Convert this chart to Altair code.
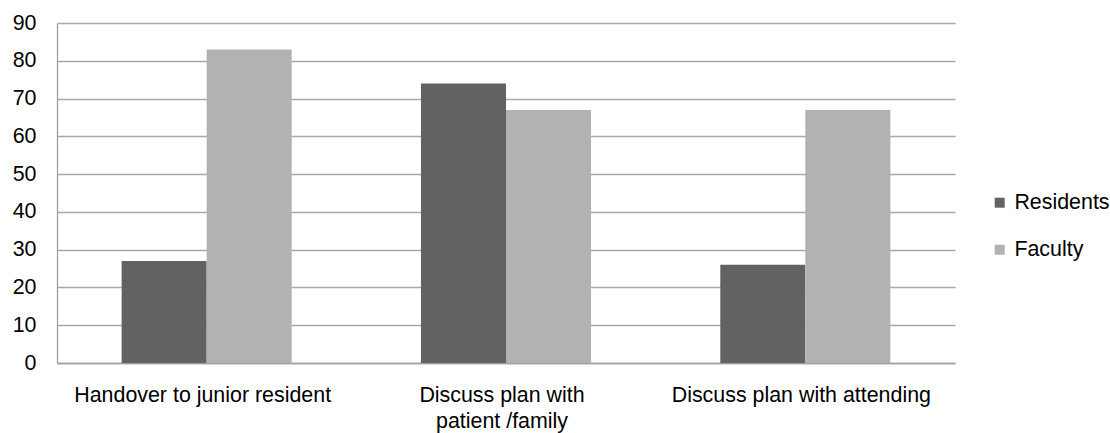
import altair as alt
import pandas as pd

categories = ["Handover to junior resident", "Discuss plan with patient /family", "Discuss plan with attending"]
residents = [27, 74, 26]
faculty = [83, 67, 67]
series = ["Residents", "Faculty"]
colors = ["#626262", "#b2b2b2"]

rows = []
for c, r, f in zip(categories, residents, faculty):
    rows.append({"category": c, "series": "Residents", "value": r})
    rows.append({"category": c, "series": "Faculty", "value": f})
df = pd.DataFrame(rows)

label_expr = ("datum.label == 'Discuss plan with patient /family' ? "
              "['Discuss plan with', 'patient /family'] : datum.label")

FS = 21.4

chart = alt.Chart(df).mark_bar().encode(
    x=alt.X("category:N", sort=categories, title=None,
            scale=alt.Scale(paddingInner=0, paddingOuter=0),
            axis=alt.Axis(labelAngle=0, labelExpr=label_expr, labelFontSize=FS,
                          labelFont="Liberation Sans", labelColor="#000000", labelLimit=0,
                          ticks=False, domain=True, domainColor="#a0a0a0", domainWidth=1.3,
                          labelPadding=21, labelLineHeight=26, labelBaseline="top",
                          labelOffset=-4)),
    xOffset=alt.XOffset("series:N", sort=series,
                        scale=alt.Scale(paddingInner=0, paddingOuter=0.76)),
    y=alt.Y("value:Q", title=None,
            scale=alt.Scale(domain=[0, 90]),
            axis=alt.Axis(values=list(range(0, 91, 10)), labelFontSize=FS,
                          labelFont="Liberation Sans", labelColor="#000000",
                          ticks=False, domain=True, domainColor="#a0a0a0", domainWidth=1.3,
                          grid=True, gridColor="#a8a8a8", gridWidth=1.3,
                          labelPadding=21)),
    color=alt.Color("series:N", sort=series,
                    scale=alt.Scale(domain=series, range=colors),
                    legend=alt.Legend(title=None, orient="none", legendX=932, legendY=169,
                                      symbolType="square", symbolSize=100,
                                      symbolStrokeWidth=0, labelFontSize=FS,
                                      labelFont="Liberation Sans", labelColor="#000000",
                                      rowPadding=24, labelOffset=4)),
).properties(
    width=898, height=340,
    padding={"left": 57, "top": 23, "right": 155, "bottom": 70},
    autosize=alt.AutoSizeParams(type="none"),
).configure_view(stroke=None)

chart.save("out.html", embed_options={"renderer": "svg", "actions": False})
